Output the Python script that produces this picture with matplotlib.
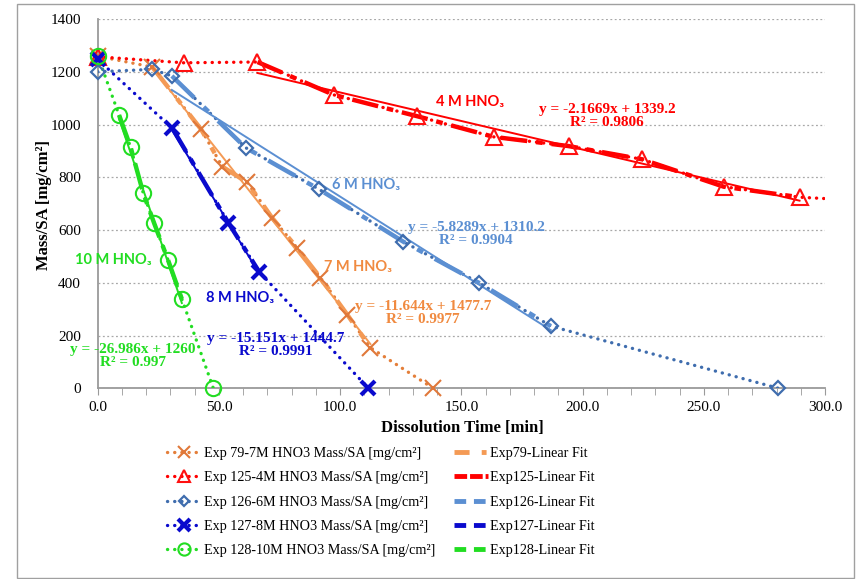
import matplotlib
matplotlib.use("Agg")
import matplotlib.pyplot as plt
from matplotlib.lines import Line2D
from matplotlib.patches import Rectangle
import numpy as np

# ---------------- data ----------------
exp79_x = [0, 22.5, 42.7, 51.4, 61.7, 72.0, 82.3, 91.9, 102.9, 112.5, 138.4]
exp79_y = [1260, 1219, 982, 841, 781, 646, 532, 419, 280, 154, 0]
exp125_x = [0, 35.4, 65.9, 97.5, 131.9, 163.3, 194.2, 224.5, 258.2, 289.5, 320]
exp125_y = [1258, 1235, 1238, 1113, 1032, 954, 919, 869, 765, 725, 710]
exp126_x = [0, 22.5, 30.6, 61.0, 91.3, 126.1, 157.1, 186.9, 280.8]
exp126_y = [1201, 1210, 1185, 913, 755, 556, 401, 236, 0]
exp127_x = [0, 30.8, 53.9, 66.6, 111.7]
exp127_y = [1248, 986, 628, 442, 0]
exp128_x = [0, 8.8, 13.6, 18.8, 23.3, 29.0, 34.7, 47.7]
exp128_y = [1262, 1037, 914, 740, 626, 487, 339, 0]

# index ranges of the points used in each linear fit
fit79 = (1, 10)
fit125 = (2, 10)
fit126 = (2, 8)
fit127 = (1, 4)
fit128 = (1, 7)

slopes = [-11.644, -2.1669, -5.8289, -15.151, -26.986]
intercepts = [1477.7, 1339.2, 1310.2, 1444.7, 1260]
eq_labels = ["y = -11.644x + 1477.7\nR² = 0.9977",
             "y = -2.1669x + 1339.2\nR² = 0.9806",
             "y = -5.8289x + 1310.2\nR² = 0.9904",
             "y = -15.151x + 1444.7\nR² = 0.9991",
             "y = -26.986x + 1260\nR² = 0.997"]
conc_labels = ["7 M HNO₃", "4 M HNO₃", "6 M HNO₃", "8 M HNO₃", "10 M HNO₃"]
data_labels = ["Exp 79-7M HNO3 Mass/SA [mg/cm²]",
               "Exp 125-4M HNO3 Mass/SA [mg/cm²]",
               "Exp 126-6M HNO3 Mass/SA [mg/cm²]",
               "Exp 127-8M HNO3 Mass/SA [mg/cm²]",
               "Exp 128-10M HNO3 Mass/SA [mg/cm²]"]
fit_labels = ["Exp79-Linear Fit", "Exp125-Linear Fit", "Exp126-Linear Fit",
              "Exp127-Linear Fit", "Exp128-Linear Fit"]
x_ticks = [0, 50, 100, 150, 200, 250, 300]
y_ticks = [0, 200, 400, 600, 800, 1000, 1200, 1400]

# ---------------- styles ----------------
xs = [exp79_x, exp125_x, exp126_x, exp127_x, exp128_x]
ys = [exp79_y, exp125_y, exp126_y, exp127_y, exp128_y]
fits = [fit79, fit125, fit126, fit127, fit128]
dot_colors = ["#E47F3A", "#FF0000", "#3F6DAE", "#0A0ACD", "#22DD22"]
mk_colors = ["#E0783A", "#FF1010", "#3F6DAE", "#0A0ACD", "#22DD22"]
fit_colors = ["#F49A55", "#FF0000", "#5B8FD2", "#0A0ACD", "#22DD22"]
eq_colors = ["#F08A40", "#FF0000", "#5B8FD2", "#0A0ACD", "#22DD22"]
markers = ["x", "^", "D", "x", "o"]
msizes = [11, 11, 7, 10, 11]
mews = [1.5, 1.5, 1.6, 3.0, 1.5]
fit_styles = [(0, (6, 3, 1.5, 3)), (0, (6, 2, 1.5, 2)), (0, (7, 3, 1.5, 3)),
              (0, (6, 2, 1.5, 2)), (0, (6, 2, 1.5, 2))]
legend_fit_styles = [(0, (3.1, 2.5, 1.0, 3)), (0, (2.6, 0.6)), (0, (2.4, 1.6)),
                     (0, (2.4, 1.6)), (0, (2.4, 1.6))]
conc_pos = [(358, 267), (470, 102), (366, 185), (240, 298), (113, 260)]
eq_pos = [(423, 313), (607, 116), (476, 234), (276, 345), (133, 356)]
DOTS = (0, (0.05, 2.1))

SERIF = ["Liberation Serif", "DejaVu Serif"]
SANS = ["Lato", "DejaVu Sans"]

W, H = 860, 579
fig = plt.figure(figsize=(W / 100, H / 100), dpi=100)
fig.patch.set_facecolor("white")
fig.add_artist(Rectangle((17 / W, 1 - 578 / H), (854 - 17) / W, (578 - 4) / H,
                         transform=fig.transFigure, fill=False,
                         edgecolor="#A0A0A0", linewidth=1.0))

ax = fig.add_axes([97.7 / W, 1 - 388.3 / H, (825 - 97.7) / W, (388.3 - 19.3) / H])
ax.set_xlim(0, 300)
ax.set_ylim(0, 1400)

for i in range(5):
    x = np.array(xs[i]); y = np.array(ys[i])
    a, b = fits[i]
    # data series: dotted line with markers
    ax.plot(x, y, linestyle=DOTS, dash_capstyle="round",
            color=dot_colors[i], lw=2.4, zorder=3)
    ax.plot(x, y, linestyle="none", marker=markers[i], markersize=msizes[i],
            markerfacecolor="none", markeredgecolor=mk_colors[i],
            markeredgewidth=mews[i], zorder=6, clip_on=False)
    # linear fit subset series: thick dash-dot
    ax.plot(x[a:b], y[a:b], linestyle=fit_styles[i], color=fit_colors[i],
            lw=3.2, zorder=4)
    # trendline
    tx = np.array([x[a], x[b - 1]])
    ax.plot(tx, slopes[i] * tx + intercepts[i], color=fit_colors[i], lw=1.4, zorder=5)
    # annotations
    px, py = conc_pos[i]
    fig.text(px / W, 1 - py / H, conc_labels[i], color=eq_colors[i], family=SANS,
             fontweight="bold", fontsize=10.5, ha="center", va="center")
    ex, ey = eq_pos[i]
    fig.text(ex / W, 1 - ey / H, eq_labels[i], color=eq_colors[i], family=SERIF,
             fontweight="bold", fontsize=11, ha="center", va="center",
             linespacing=1.05)

# axes styling
for s in ["top", "right"]:
    ax.spines[s].set_visible(False)
for s in ["left", "bottom"]:
    ax.spines[s].set_color("#9A9A9A")
    ax.spines[s].set_linewidth(1.3)
ax.set_xticks(x_ticks)
ax.set_xticklabels([f"{v:.1f}" for v in x_ticks], family=SERIF, fontsize=11)
ax.set_xticks(np.arange(0, 301, 10), minor=True)
ax.set_yticks(y_ticks)
ax.set_yticklabels([str(v) for v in y_ticks], family=SERIF, fontsize=11)
ax.tick_params(axis="x", which="both", direction="out", length=5, color="#9A9A9A",
               pad=4)
ax.tick_params(axis="y", length=0, pad=12)
ax.yaxis.grid(True, linestyle=(0, (1.5, 2)), color="#A8A8A8", lw=0.9)
ax.set_axisbelow(True)

fig.text(462 / W, 1 - 428 / H, "Dissolution Time [min]", family=SERIF,
         fontweight="bold", fontsize=12, ha="center", va="center")
fig.text(44 / W, 1 - 205 / H, "Mass/SA [mg/cm²]", family=SERIF,
         fontweight="bold", fontsize=12, ha="center", va="center", rotation=90)

# legend
handles = []
for i in range(5):
    handles.append(Line2D([], [], linestyle=DOTS, dash_capstyle="round",
                          color=dot_colors[i], lw=2.4, marker=markers[i],
                          markersize=msizes[i] * 0.8, markerfacecolor="none",
                          markeredgecolor=mk_colors[i], markeredgewidth=mews[i]))
for i in range(5):
    handles.append(Line2D([], [], linestyle=legend_fit_styles[i], color=fit_colors[i],
                          lw=3.5, dash_capstyle="butt"))
labels = data_labels + fit_labels
leg = fig.legend(handles, labels, ncol=2, loc="upper left",
                 bbox_to_anchor=(167 / W, 1 - 447 / H), frameon=False,
                 prop={"family": SERIF, "size": 10.2}, handlelength=2.4,
                 handletextpad=0.2, columnspacing=1.3, labelspacing=0.8,
                 borderpad=0, borderaxespad=0)

fig.savefig("out.png", dpi=100, facecolor="white")
